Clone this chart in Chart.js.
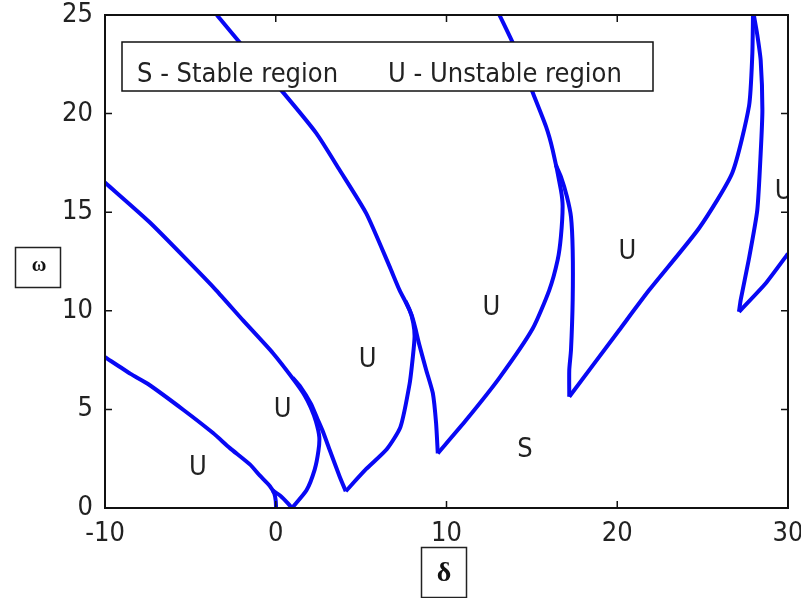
<!DOCTYPE html>
<html>
<head>
<meta charset="utf-8">
<script src="https://cdn.jsdelivr.net/npm/chart.js@4/dist/chart.umd.min.js"></script>
<style>
  html, body { margin: 0; padding: 0; background: #fff; }
  #wrap { width: 801px; height: 598px; }
</style>
</head>
<body>
<div id="wrap"><canvas id="c" width="801" height="598"></canvas></div>
<script>
// Axis ticks
const deltaTicks = [-10, 0, 10, 20, 30];
const omegaTicks = [0, 5, 10, 15, 20, 25];

// Transition curves, [delta, omega] pairs
const curveA = [[-10, 7.65], [-8.5, 6.8], [-7.5, 6.3], [-5.4, 4.97], [-3.67, 3.8], [-2.7, 3.05], [-1.5, 2.2], [-0.94, 1.65], [-0.35, 1.12], [-0.08, 0.72], [0.0, 0.35], [0.02, 0]];
const curveB = [[-0.2, 0.9], [0.3, 0.6], [0.7, 0.25], [0.95, 0]];
const curveC = [[-10, 16.5], [-7.4, 14.5], [-5.0, 12.4], [-3.5, 11.05], [-1.9, 9.5], [-0.16, 7.85], [1.1, 6.45], [1.7, 5.7], [2.05, 5.1], [2.35, 4.4], [2.55, 3.6], [2.5, 2.9], [2.28, 1.95], [1.8, 0.9], [0.95, 0]];
const curveD = [[4.1, 0.85], [3.74, 1.6], [3.16, 2.94], [2.75, 3.9], [2.45, 4.5], [2.05, 5.3], [1.4, 6.2], [1.0, 6.6]];
const curveE = [[4.1, 0.85], [5.3, 1.98], [6.5, 2.98], [7.3, 4.1], [7.84, 6.3], [8.03, 7.67], [8.13, 8.7], [8.05, 9.4], [7.84, 10.04], [7.25, 11.05], [6.67, 12.24], [5.3, 14.94], [3.74, 17.14], [2.38, 19.0], [0.23, 21.28], [-1.81, 23.3], [-3.45, 25]];
const curveF = [[9.49, 2.77], [9.39, 4.3], [9.2, 5.82], [8.81, 7.0], [8.4, 8.3], [8.15, 9.2], [7.95, 9.8], [7.6, 10.5]];
const curveG = [[9.49, 2.77], [11.15, 4.46], [13.1, 6.6], [15.05, 9.1], [16.02, 11.05], [16.51, 12.58], [16.7, 13.76], [16.8, 15.3], [16.7, 16.13], [16.22, 18.15], [15.83, 19.34], [14.95, 21.28], [13.98, 23.4], [13.1, 25]];
const curveH = [[17.19, 5.64], [17.19, 7.0], [17.29, 8.0], [17.39, 10.55], [17.39, 13.08], [17.29, 14.77], [17.05, 15.8], [16.7, 16.8], [16.4, 17.4]];
const curveI = [[17.19, 5.64], [20.12, 9.03], [21.87, 11.05], [24.8, 14.2], [26.74, 17.0], [27.72, 20.4], [27.91, 23.0], [27.95, 25]];
const curveJ = [[27.13, 9.95], [27.23, 10.55], [27.7, 12.58], [28.2, 15.1], [28.4, 18.0], [28.5, 20.2], [28.4, 22.7], [28.2, 24.0], [28.0, 25]];
const curveK = [[27.13, 9.95], [28.7, 11.4], [30, 12.9]];

// Region markers
const regionText = ['U', 'U', 'U', 'U', 'U', 'U', 'S'];
const regionDelta = [-4.56, 0.41, 5.38, 12.63, 20.6, 29.75, 14.6];
const regionOmega = [2.03, 4.97, 7.5, 10.14, 13.0, 16.0, 2.94];

const legendText = ['S - Stable region', 'U - Unstable region'];

const curves = [curveA, curveB, curveC, curveD, curveE, curveF, curveG, curveH, curveI, curveJ, curveK];
const LINE = '#0808f4';
const FONT = '"Liberation Sans Narrow", "DejaVu Sans Condensed", "Liberation Sans", sans-serif';

const datasets = curves.map(c => ({
  data: c.map(p => ({ x: p[0], y: p[1] })),
  showLine: true,
  borderColor: LINE,
  borderWidth: 4,
  pointRadius: 0,
  tension: 0.2,
  fill: false
}));

const frame = {
  id: 'frame',
  beforeDraw(chart) {
    const ctx = chart.ctx;
    ctx.save();
    ctx.fillStyle = '#fff';
    ctx.fillRect(0, 0, chart.width, chart.height);
    ctx.restore();
  },
  afterDatasetsDraw(chart) {
    const { ctx, chartArea: a, scales } = chart;
    ctx.save();
    // region labels, clipped to the plot area
    ctx.beginPath();
    ctx.rect(a.left, a.top, a.right - a.left, a.bottom - a.top);
    ctx.clip();
    ctx.fillStyle = '#222';
    ctx.font = '27px ' + FONT;
    ctx.textAlign = 'center';
    ctx.textBaseline = 'middle';
    regionText.forEach((t, i) => {
      ctx.fillText(t, scales.x.getPixelForValue(regionDelta[i]), scales.y.getPixelForValue(regionOmega[i]));
    });
    ctx.restore();

    ctx.save();
    // box around the plot
    ctx.strokeStyle = '#111';
    ctx.lineWidth = 2;
    ctx.strokeRect(a.left, a.top, a.right - a.left, a.bottom - a.top);
    // inward ticks on all four sides
    ctx.lineWidth = 1.5;
    ctx.beginPath();
    const tl = 7;
    deltaTicks.forEach(v => {
      const px = scales.x.getPixelForValue(v);
      ctx.moveTo(px, a.bottom); ctx.lineTo(px, a.bottom - tl);
      ctx.moveTo(px, a.top); ctx.lineTo(px, a.top + tl);
    });
    omegaTicks.forEach(v => {
      const py = scales.y.getPixelForValue(v);
      ctx.moveTo(a.left, py); ctx.lineTo(a.left + tl, py);
      ctx.moveTo(a.right, py); ctx.lineTo(a.right - tl, py);
    });
    ctx.stroke();

    // legend box
    const lx = 122, ly = 42, lw = 531, lh = 49;
    ctx.fillStyle = '#fff';
    ctx.fillRect(lx, ly, lw, lh);
    ctx.strokeStyle = '#111';
    ctx.lineWidth = 1.5;
    ctx.strokeRect(lx, ly, lw, lh);
    ctx.fillStyle = '#222';
    ctx.font = '27px ' + FONT;
    ctx.textAlign = 'left';
    ctx.textBaseline = 'alphabetic';
    ctx.fillText(legendText[0], 137, 82);
    ctx.fillText(legendText[1], 388, 82);

    // axis name boxes
    ctx.strokeStyle = '#222';
    ctx.lineWidth = 1.5;
    ctx.strokeRect(15.5, 247.5, 45, 40);
    ctx.strokeRect(421.5, 547.5, 45, 50);
    ctx.fillStyle = '#111';
    ctx.textAlign = 'center';
    ctx.textBaseline = 'middle';
    ctx.font = 'bold 20px "Liberation Serif", serif';
    ctx.fillText('ω', 39, 266);
    ctx.font = 'bold 28px "Liberation Serif", serif';
    ctx.fillText('δ', 444, 574);
    ctx.restore();
  }
};

new Chart(document.getElementById('c'), {
  type: 'scatter',
  data: { datasets },
  options: {
    responsive: false,
    devicePixelRatio: 1,
    animation: false,
    layout: { padding: { top: 15, right: 13, left: 0, bottom: 0 } },
    plugins: { legend: { display: false }, tooltip: { enabled: false } },
    scales: {
      x: {
        type: 'linear',
        min: -10, max: 30,
        afterBuildTicks(s) { s.ticks = deltaTicks.map(v => ({ value: v })); },
        afterFit(s) { s.height = 90; s.paddingLeft = 0; s.paddingRight = 0; },
        grid: { display: false, drawTicks: false },
        border: { display: false },
        ticks: { color: '#222', padding: 10, font: { family: FONT, size: 27 }, maxRotation: 0 }
      },
      y: {
        type: 'linear',
        min: 0, max: 25,
        afterBuildTicks(s) { s.ticks = omegaTicks.map(v => ({ value: v })); },
        afterFit(s) { s.width = 105; s.paddingTop = 0; s.paddingBottom = 0; },
        grid: { display: false, drawTicks: false },
        border: { display: false },
        ticks: { color: '#222', padding: 12, font: { family: FONT, size: 27 } }
      }
    }
  },
  plugins: [frame]
});
</script>
</body>
</html>
